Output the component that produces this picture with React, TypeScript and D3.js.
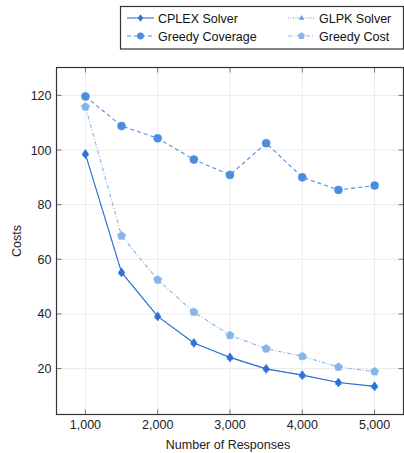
import React, { useEffect, useRef } from 'react';
import * as d3 from 'd3';

// x values (number of responses)
const responses = [1000, 1500, 2000, 2500, 3000, 3500, 4000, 4500, 5000];
const cplex = [98.5, 55.2, 39.1, 29.4, 24.1, 19.9, 17.6, 14.9, 13.5];
const glpk = [98.5, 55.2, 39.1, 29.4, 24.1, 19.9, 17.6, 14.9, 13.5];
const greedyCoverage = [119.6, 108.8, 104.3, 96.5, 90.9, 102.5, 90.0, 85.4, 87.0];
const greedyCost = [115.8, 68.6, 52.5, 40.7, 32.2, 27.3, 24.5, 20.6, 18.9];
const xTicks = [1000, 2000, 3000, 4000, 5000];
const yTicks = [20, 40, 60, 80, 100, 120];

const FONT = '"Liberation Sans", Arial, Helvetica, sans-serif';

function pentagon(r: number) {
  const pts: [number, number][] = [];
  for (let i = 0; i < 5; i++) {
    const a = -Math.PI / 2 + (i * 2 * Math.PI) / 5;
    pts.push([r * Math.cos(a), r * Math.sin(a)]);
  }
  return 'M' + pts.map((p) => p.join(',')).join('L') + 'Z';
}

const series = [
  { name: 'CPLEX Solver', values: cplex, color: '#2d72d4', dash: null, marker: 'diamond', order: 3 },
  { name: 'GLPK Solver', values: glpk, color: '#5c9ae3', dash: '1,1.5', marker: 'triangle', order: 2 },
  { name: 'Greedy Coverage', values: greedyCoverage, color: '#4a8de0', dash: '4,3', marker: 'circle', order: 1 },
  { name: 'Greedy Cost', values: greedyCost, color: '#86b5ea', dash: '4,2,1,2', marker: 'pentagon', order: 0 },
];

function markerPath(kind: string) {
  if (kind === 'diamond') return 'M0,-4.5L3.2,0L0,4.5L-3.2,0Z';
  if (kind === 'triangle') return 'M0,-3.5L3,2L-3,2Z';
  if (kind === 'circle') return d3.symbol(d3.symbolCircle, 50)()!;
  return pentagon(4.3);
}

export default function App() {
  const ref = useRef<SVGSVGElement>(null);

  useEffect(() => {
    const svg = d3.select(ref.current);
    svg.selectAll('*').remove();

    const left = 56.5, right = 403.5, top = 67.5, bottom = 414.5;
    const x = d3.scaleLinear().domain([600, 5400]).range([left, right]);
    const y = d3.scaleLinear().domain([3.2, 130.2]).range([bottom, top]);

    // grid
    const grid = svg.append('g').attr('stroke', '#ebebeb').attr('stroke-width', 1);
    xTicks.forEach((t) => {
      grid.append('line').attr('x1', x(t)).attr('x2', x(t)).attr('y1', top).attr('y2', bottom);
    });
    yTicks.forEach((t) => {
      grid.append('line').attr('x1', left).attr('x2', right).attr('y1', y(t)).attr('y2', y(t));
    });

    // ticks inside
    const ticks = svg.append('g').attr('stroke', '#777').attr('stroke-width', 1);
    xTicks.forEach((t) => {
      ticks.append('line').attr('x1', x(t)).attr('x2', x(t)).attr('y1', bottom).attr('y2', bottom - 5);
      ticks.append('line').attr('x1', x(t)).attr('x2', x(t)).attr('y1', top).attr('y2', top + 5);
    });
    yTicks.forEach((t) => {
      ticks.append('line').attr('x1', left).attr('x2', left + 5).attr('y1', y(t)).attr('y2', y(t));
      ticks.append('line').attr('x1', right).attr('x2', right - 5).attr('y1', y(t)).attr('y2', y(t));
    });

    // frame
    svg.append('rect')
      .attr('x', left).attr('y', top)
      .attr('width', right - left).attr('height', bottom - top)
      .attr('fill', 'none').attr('stroke', '#333').attr('stroke-width', 1.2);

    // tick labels
    const fmt = d3.format(',');
    xTicks.forEach((t) => {
      svg.append('text').attr('x', x(t)).attr('y', bottom + 14)
        .attr('text-anchor', 'middle').attr('font-family', FONT).attr('font-size', 12.5)
        .attr('fill', '#222').text(fmt(t));
    });
    yTicks.forEach((t) => {
      svg.append('text').attr('x', left - 5).attr('y', y(t) + 4.5)
        .attr('text-anchor', 'end').attr('font-family', FONT).attr('font-size', 12.5)
        .attr('fill', '#222').text(t);
    });

    svg.append('text').attr('x', (left + right) / 2 - 2).attr('y', 449)
      .attr('text-anchor', 'middle').attr('font-family', FONT).attr('font-size', 12.5)
      .attr('fill', '#222').text('Number of Responses');
    svg.append('text').attr('transform', `translate(21,${(top + bottom) / 2}) rotate(-90)`)
      .attr('text-anchor', 'middle').attr('font-family', FONT).attr('font-size', 12.5)
      .attr('fill', '#222').text('Costs');

    // series
    const line = d3.line<number>().x((_, i) => x(responses[i])).y((d) => y(d));
    [...series].sort((a, b) => a.order - b.order).forEach((s) => {
      const g = svg.append('g');
      g.append('path').attr('d', line(s.values)!).attr('fill', 'none')
        .attr('stroke', s.color).attr('stroke-width', 1.1)
        .attr('stroke-dasharray', s.dash);
      s.values.forEach((v, i) => {
        g.append('path').attr('d', markerPath(s.marker))
          .attr('transform', `translate(${x(responses[i])},${y(v)})`)
          .attr('fill', s.color).attr('stroke', s.color).attr('stroke-width', 0.6);
      });
    });

    // legend
    const lg = svg.append('g');
    lg.append('rect').attr('x', 120.5).attr('y', 6.5).attr('width', 283).attr('height', 42.5)
      .attr('fill', 'white').attr('stroke', '#333').attr('stroke-width', 1.2);
    const cols = [
      { s: series[0], lx: 127, ty: 18 },
      { s: series[2], lx: 127, ty: 36 },
      { s: series[1], lx: 288, ty: 18 },
      { s: series[3], lx: 288, ty: 36 },
    ];
    cols.forEach(({ s, lx, ty }) => {
      lg.append('line').attr('x1', lx).attr('x2', lx + 27).attr('y1', ty).attr('y2', ty)
        .attr('stroke', s.color).attr('stroke-width', 1.1).attr('stroke-dasharray', s.dash);
      lg.append('path').attr('d', markerPath(s.marker))
        .attr('transform', `translate(${lx + 13.5},${ty}) scale(0.85)`)
        .attr('fill', s.color);
      lg.append('text').attr('x', lx + 31).attr('y', ty + 4.5)
        .attr('font-family', FONT).attr('font-size', 12.5).attr('fill', '#111').text(s.name);
    });
  }, []);

  return (
    <svg ref={ref} width={404} height={453}
      style={{ position: 'absolute', left: 0, top: 0, background: 'white' }} />
  );
}
